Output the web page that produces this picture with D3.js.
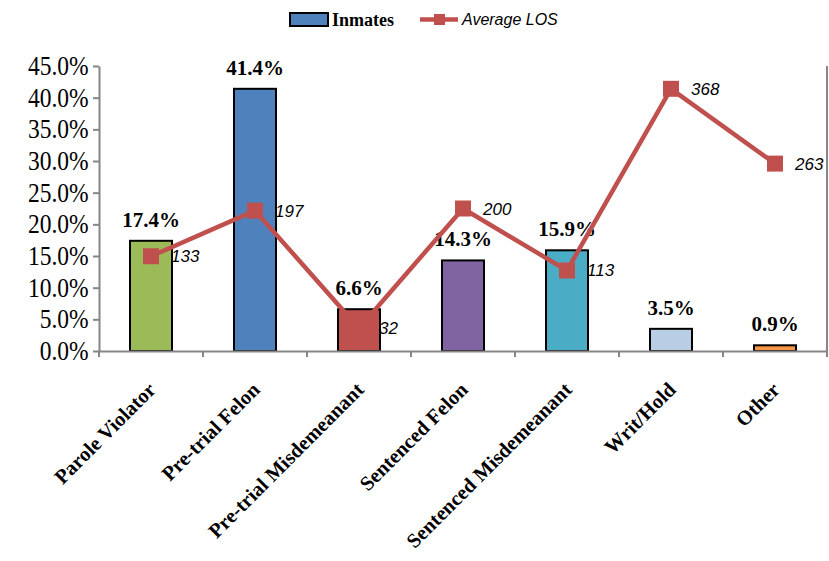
<!DOCTYPE html>
<html>
<head>
<meta charset="utf-8">
<script src="https://cdn.jsdelivr.net/npm/d3@7"></script>
<style>
  body { margin: 0; background: #fff; }
</style>
</head>
<body>
<script>
// data
var categories = ["Parole Violator", "Pre-trial Felon", "Pre-trial Misdemeanant",
                  "Sentenced Felon", "Sentenced Misdemeanant", "Writ/Hold", "Other"];
var inmates = [0.174, 0.414, 0.066, 0.143, 0.159, 0.035, 0.009];
var avgLOS = [133, 197, 32, 200, 113, 368, 263];
var yTicks = [0, 0.05, 0.10, 0.15, 0.20, 0.25, 0.30, 0.35, 0.40, 0.45];
var barColors = ["#9BBB59", "#4F81BD", "#C0504D", "#8064A2", "#4BACC6", "#B9CDE5", "#F79646"];

// sizes
var w_svg = 829, h_svg = 561;
var pad_left = 99, pad_right = 827, pad_top = 66, pad_bottom = 351;
var red = "#C0504D";
var axisGrey = "#868686";

var svg = d3.select("body").append("svg")
  .attr("width", w_svg).attr("height", h_svg);

// scales
var xScale = d3.scaleBand().domain(categories).range([pad_left, pad_right]);
var yScale = d3.scaleLinear().domain([0, 0.45]).range([pad_bottom, pad_top]);
var y2Scale = d3.scaleLinear().domain([0, 400]).range([pad_bottom, pad_top]); // hidden secondary axis
var barW = 42;

// y axis
var y_axis = d3.axisLeft(yScale).tickValues(yTicks).tickSize(6).tickSizeOuter(0)
  .tickFormat(function(d) { return (d * 100).toFixed(1) + "%"; });
var gy = svg.append("g").attr("transform", "translate(" + pad_left + ",0)").call(y_axis);
gy.select(".domain").attr("stroke", axisGrey).attr("stroke-width", 2);
gy.selectAll(".tick line").attr("stroke", axisGrey).attr("stroke-width", 2);
gy.selectAll(".tick text")
  .attr("x", -12)
  .attr("font-family", "'Liberation Serif', 'Times New Roman', serif")
  .attr("font-size", "27px")
  .attr("fill", "#000")
  .attr("transform", "scale(0.87,1)");

// right (secondary) axis line, no labels
svg.append("line")
  .attr("x1", pad_right).attr("x2", pad_right)
  .attr("y1", y2Scale(400)).attr("y2", y2Scale(0))
  .attr("stroke", axisGrey).attr("stroke-width", 2);

// bars
svg.selectAll("rect.bar")
  .data(inmates).enter().append("rect")
  .attr("class", "bar")
  .attr("x", function(d, i) { return xScale(categories[i]) + xScale.bandwidth() / 2 - barW / 2; })
  .attr("y", function(d) { return yScale(d); })
  .attr("width", barW)
  .attr("height", function(d) { return pad_bottom - yScale(d); })
  .attr("fill", function(d, i) { return barColors[i]; })
  .attr("stroke", "#000").attr("stroke-width", 2);

// x axis
var x_axis = d3.axisBottom(xScale).tickSize(0).tickFormat("");
var gx = svg.append("g").attr("transform", "translate(0," + pad_bottom + ")").call(x_axis);
gx.select(".domain").attr("stroke", axisGrey).attr("stroke-width", 2);
// ticks between categories
var bounds = categories.map(function(c) { return xScale(c); }).concat([pad_right]);
svg.selectAll("line.xtick")
  .data(bounds).enter().append("line")
  .attr("class", "xtick")
  .attr("x1", function(d) { return d; }).attr("x2", function(d) { return d; })
  .attr("y1", pad_bottom).attr("y2", pad_bottom + 6)
  .attr("stroke", axisGrey).attr("stroke-width", 2);

// category labels, rotated
svg.selectAll("text.cat")
  .data(categories).enter().append("text")
  .attr("class", "cat")
  .attr("transform", function(d) {
    return "translate(" + (xScale(d) + xScale.bandwidth() / 2 + 6) + "," + (pad_bottom + 40) + ") rotate(-45)";
  })
  .attr("text-anchor", "end")
  .attr("font-family", "'Liberation Serif', 'Times New Roman', serif")
  .attr("font-weight", "bold")
  .attr("font-size", "20.5px")
  .text(function(d) { return d; });

// bar value labels
svg.selectAll("text.barlab")
  .data(inmates).enter().append("text")
  .attr("class", "barlab")
  .attr("x", function(d, i) { return xScale(categories[i]) + xScale.bandwidth() / 2; })
  .attr("y", function(d) { return yScale(d) - 14; })
  .attr("text-anchor", "middle")
  .attr("font-family", "'Liberation Serif', 'Times New Roman', serif")
  .attr("font-weight", "bold")
  .attr("font-size", "21px")
  .text(function(d) { return (d * 100).toFixed(1) + "%"; });

// Average LOS line
var line = d3.line()
  .x(function(d, i) { return xScale(categories[i]) + xScale.bandwidth() / 2; })
  .y(function(d) { return y2Scale(d); });
svg.append("path")
  .datum(avgLOS)
  .attr("d", line)
  .attr("fill", "none")
  .attr("stroke", red)
  .attr("stroke-width", 4.5)
  .attr("stroke-linejoin", "round");

var mk = 16;
svg.selectAll("rect.marker")
  .data(avgLOS).enter().append("rect")
  .attr("class", "marker")
  .attr("x", function(d, i) { return xScale(categories[i]) + xScale.bandwidth() / 2 - mk / 2; })
  .attr("y", function(d) { return y2Scale(d) - mk / 2; })
  .attr("width", mk).attr("height", mk)
  .attr("fill", red);

svg.selectAll("text.loslab")
  .data(avgLOS).enter().append("text")
  .attr("class", "loslab")
  .attr("x", function(d, i) { return xScale(categories[i]) + xScale.bandwidth() / 2 + 20; })
  .attr("y", function(d) { return y2Scale(d) + 6; })
  .attr("font-family", "'Liberation Sans', Arial, sans-serif")
  .attr("font-style", "italic")
  .attr("font-size", "17px")
  .text(function(d) { return d; });

// legend
var lg = svg.append("g");
lg.append("rect")
  .attr("x", 290).attr("y", 13).attr("width", 38).attr("height", 13)
  .attr("fill", "#4F81BD").attr("stroke", "#000").attr("stroke-width", 2);
lg.append("text")
  .attr("x", 332).attr("y", 26)
  .attr("font-family", "'Liberation Serif', 'Times New Roman', serif")
  .attr("font-weight", "bold").attr("font-size", "18px")
  .text("Inmates");
lg.append("line")
  .attr("x1", 420).attr("x2", 458).attr("y1", 19.5).attr("y2", 19.5)
  .attr("stroke", red).attr("stroke-width", 4.5);
lg.append("rect")
  .attr("x", 434).attr("y", 14).attr("width", 11).attr("height", 11)
  .attr("fill", red);
lg.append("text")
  .attr("x", 462).attr("y", 25)
  .attr("font-family", "'Liberation Sans', Arial, sans-serif")
  .attr("font-style", "italic").attr("font-size", "16px")
  .text("Average LOS");
</script>
</body>
</html>
